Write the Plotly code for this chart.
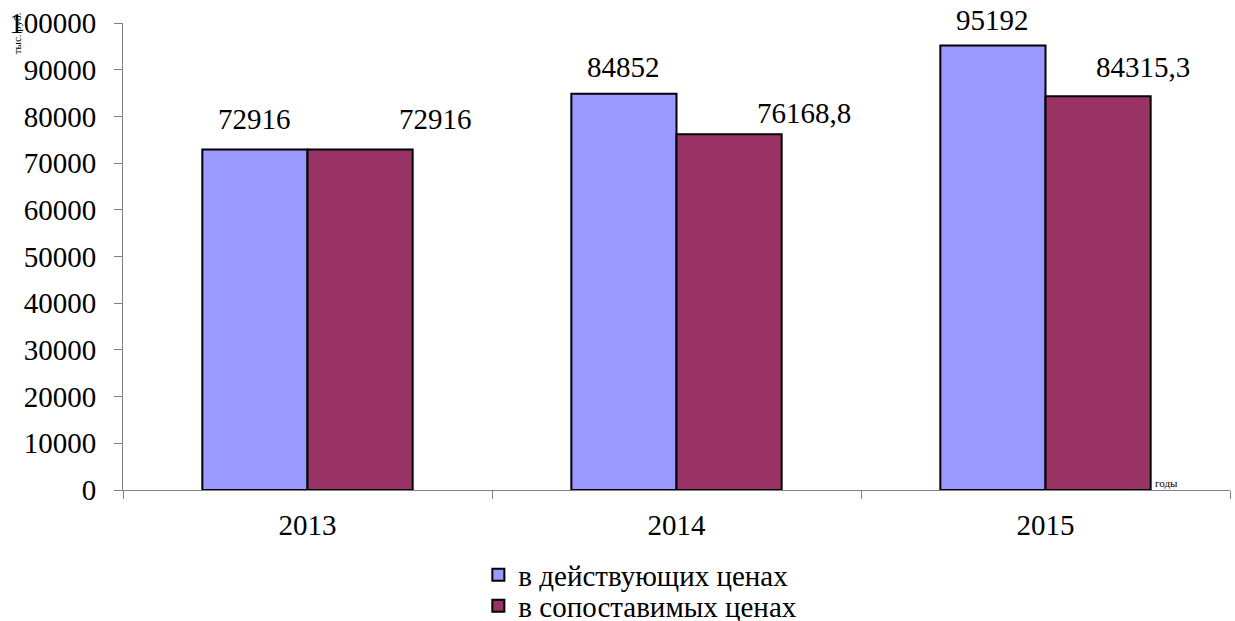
import plotly.graph_objects as go

years = ["2013", "2014", "2015"]
current_prices = [72916, 84852, 95192]
comparable_prices = [72916, 76168.8, 84315.3]
current_labels = ["72916", "84852", "95192"]
comparable_labels = ["72916", "76168,8", "84315,3"]
series_names = ["в действующих ценах", "в сопоставимых ценах"]
y_ticks = [0, 10000, 20000, 30000, 40000, 50000, 60000, 70000, 80000, 90000, 100000]

FONT = "Liberation Serif"
FS = 29
BLUE = "#9999FF"
RED = "#993366"

fig = go.Figure()
fig.add_trace(go.Bar(x=years, y=current_prices, name=series_names[0], legend="legend",
                     marker=dict(color=BLUE, line=dict(color="black", width=2))))
fig.add_trace(go.Bar(x=years, y=comparable_prices, name=series_names[1], legend="legend2",
                     marker=dict(color=RED, line=dict(color="black", width=2))))

# data label offsets (pixels)
blue_dx = [0, 0, 0]
blue_dy = [30, 27, 25]
red_dx = [75, 74, 44]
red_dy = [30, 21, 29]
half_bar = 53
for i, yr in enumerate(years):
    fig.add_annotation(x=i, y=current_prices[i], text=current_labels[i],
                       showarrow=False, xshift=-half_bar + blue_dx[i], yshift=blue_dy[i],
                       font=dict(family=FONT, size=FS, color="black"))
    fig.add_annotation(x=i, y=comparable_prices[i], text=comparable_labels[i],
                       showarrow=False, xshift=half_bar + red_dx[i], yshift=red_dy[i],
                       font=dict(family=FONT, size=FS, color="black"))

fig.add_annotation(xref="paper", yref="paper", x=-0.0958, y=0.978, xanchor="center",
                   yanchor="middle", text="тыс. руб.", textangle=-90, showarrow=False,
                   font=dict(family=FONT, size=11, color="black"))
fig.add_annotation(xref="paper", yref="paper", x=0.930, y=0.015, xanchor="left",
                   yanchor="middle", text="годы", showarrow=False,
                   font=dict(family=FONT, size=11, color="black"))

legend_common = dict(orientation="v", xanchor="left", yanchor="middle",
                     font=dict(family=FONT, size=FS, color="black"),
                     bgcolor="rgba(0,0,0,0)", itemwidth=30)

fig.update_layout(
    width=1235, height=621,
    margin=dict(l=123, r=5, t=23, b=131, autoexpand=False),
    paper_bgcolor="white", plot_bgcolor="white",
    barmode="group", bargap=0.43, bargroupgap=0,
    font=dict(family=FONT, size=FS, color="black"),
    showlegend=True,
    legend=dict(x=0.321, y=-0.182, **legend_common),
    legend2=dict(x=0.321, y=-0.2484, **legend_common),
    xaxis=dict(type="category", range=[-0.5, 2.5], showline=True, linecolor="#808080",
               linewidth=1, ticks="outside", ticklen=8, tickcolor="#808080",
               tickson="boundaries", showgrid=False, zeroline=False, tickangle=0,
               automargin=False, ticklabelstandoff=9,
               tickfont=dict(family=FONT, size=FS, color="black")),
    yaxis=dict(range=[0, 100000], tickvals=y_ticks, showline=True, linecolor="#808080",
               linewidth=1, ticks="outside", ticklen=8, tickcolor="#808080",
               showgrid=False, zeroline=False, tickformat="d", automargin=False,
               ticklabelstandoff=12,
               tickfont=dict(family=FONT, size=FS, color="black")),
)

fig.write_html("out.html")
